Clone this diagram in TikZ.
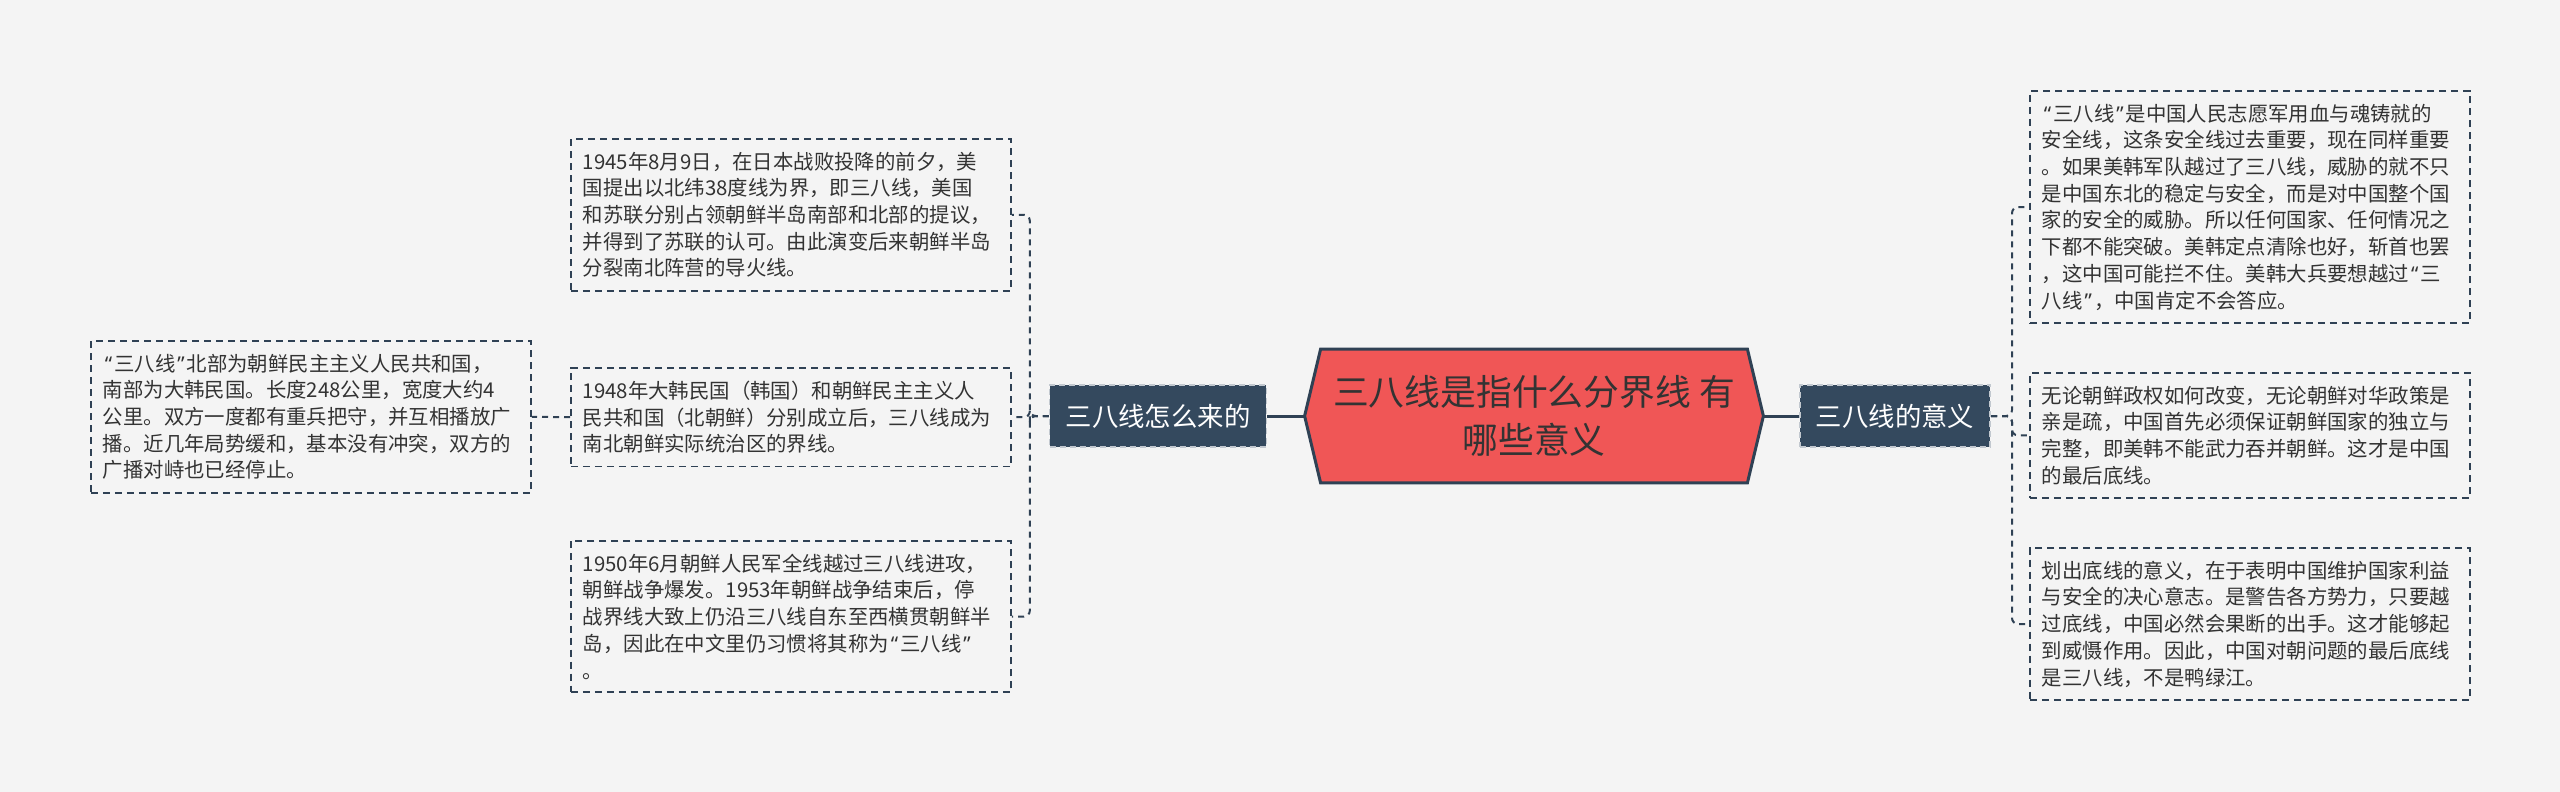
\documentclass[tikz,border=0pt]{standalone}
\usepackage{fontspec}
\setmainfont{Noto Sans CJK SC}
\newfontfamily\quotefont{Noto Sans}
\newcommand\oq{{\kern1pt\quotefont “\kern1pt}}
\newcommand\cq{{\kern1pt\quotefont ”\kern1pt}}
\usetikzlibrary{backgrounds}
\definecolor{bgc}{HTML}{F4F4F4}
\definecolor{linec}{HTML}{2F4154}
\definecolor{rootc}{HTML}{F05656}
\definecolor{branchc}{HTML}{34495E}
\definecolor{textc}{HTML}{333333}
\begin{document}
\begin{tikzpicture}[x=0.5pt,y=-0.5pt,
	leaf/.style={draw=linec,line width=0.9pt,dash pattern=on 3.5pt off 2.5pt,text=textc,anchor=north west,align=left,text width=208pt,inner xsep=6pt,inner ysep=6.5pt,font=\fontsize{10.2pt}{13.35pt}\selectfont},
	branch/.style={fill=branchc,draw=white!70!branchc,line width=0.8pt,dash pattern=on 3pt off 2pt,text=white,minimum height=31pt,inner xsep=8pt,font=\fontsize{13.2pt}{16pt}\selectfont},
	link/.style={draw=linec,line width=1pt,dash pattern=on 3pt off 2.5pt,rounded corners=3pt},
	trunk/.style={draw=linec,line width=1.5pt}]
	\begin{scope}[on background layer]
		\fill[bgc] (0,0) rectangle (2560,792);
	\end{scope}
	\useasboundingbox (0,0) rectangle (2560,792);
	% centre
	\node[minimum width=213pt,minimum height=66.5pt,align=center,text=textc,font=\fontsize{17.9pt}{23.7pt}\selectfont] (root) at (1534,416) {三八线是指什么分界线 有\\哪些意义};
	\coordinate (rootL) at ([xshift=-8pt]root.west);
	\coordinate (rootR) at ([xshift=8pt]root.east);
	\begin{scope}[on background layer]
		\draw[trunk,fill=rootc] (root.north west) -- (root.north east) -- (rootR) -- (root.south east) -- (root.south west) -- (rootL) -- cycle;
	\end{scope}
	\node[branch] (b1) at (1158,416) {三八线怎么来的};
	\node[branch] (b2) at (1895,416) {三八线的意义};
	% left
	\node[leaf] (a1) at (570,138) {1945年8月9日，在日本战败投降的前夕，美\\国提出以北纬38度线为界，即三八线，美国\\和苏联分别占领朝鲜半岛南部和北部的提议，\\并得到了苏联的认可。由此演变后来朝鲜半岛\\分裂南北阵营的导火线。};
	\node[leaf] (a2) at (570,367) {1948年大韩民国（韩国）和朝鲜民主主义人\\民共和国（北朝鲜）分别成立后，三八线成为\\南北朝鲜实际统治区的界线。};
	\node[leaf] (a3) at (570,540) {1950年6月朝鲜人民军全线越过三八线进攻，\\朝鲜战争爆发。1953年朝鲜战争结束后，停\\战界线大致上仍沿三八线自东至西横贯朝鲜半\\岛，因此在中文里仍习惯将其称为\oq 三八线\cq\\。};
	\node[leaf] (c1) at (90,340) {\oq 三八线\cq 北部为朝鲜民主主义人民共和国，\\南部为大韩民国。长度248公里，宽度大约4\\公里。双方一度都有重兵把守，并互相播放广\\播。近几年局势缓和，基本没有冲突，双方的\\广播对峙也已经停止。};
	% right
	\node[leaf] (r1) at (2029,90) {\oq 三八线\cq 是中国人民志愿军用血与魂铸就的\\安全线，这条安全线过去重要，现在同样重要\\。如果美韩军队越过了三八线，威胁的就不只\\是中国东北的稳定与安全，而是对中国整个国\\家的安全的威胁。所以任何国家、任何情况之\\下都不能突破。美韩定点清除也好，斩首也罢\\，这中国可能拦不住。美韩大兵要想越过\oq 三\\八线\cq ，中国肯定不会答应。};
	\node[leaf] (r2) at (2029,372) {无论朝鲜政权如何改变，无论朝鲜对华政策是\\亲是疏，中国首先必须保证朝鲜国家的独立与\\完整，即美韩不能武力吞并朝鲜。这才是中国\\的最后底线。};
	\node[leaf] (r3) at (2029,547) {划出底线的意义，在于表明中国维护国家利益\\与安全的决心意志。是警告各方势力，只要越\\过底线，中国必然会果断的出手。这才能够起\\到威慑作用。因此，中国对朝问题的最后底线\\是三八线，不是鸭绿江。};
	\draw[trunk] (rootL) -- (b1.east);
	\draw[trunk] (rootR) -- (b2.west);
	\foreach \n in {a1,a2,a3}
		\draw[link] (b1.west) -- ++(-19,0) |- (\n.east);
	\foreach \n in {r1,r2,r3}
		\draw[link] (b2.east) -- ++(21,0) |- (\n.west);
	\draw[link] (a2.west) -- (c1.east);
\end{tikzpicture}
\end{document}
